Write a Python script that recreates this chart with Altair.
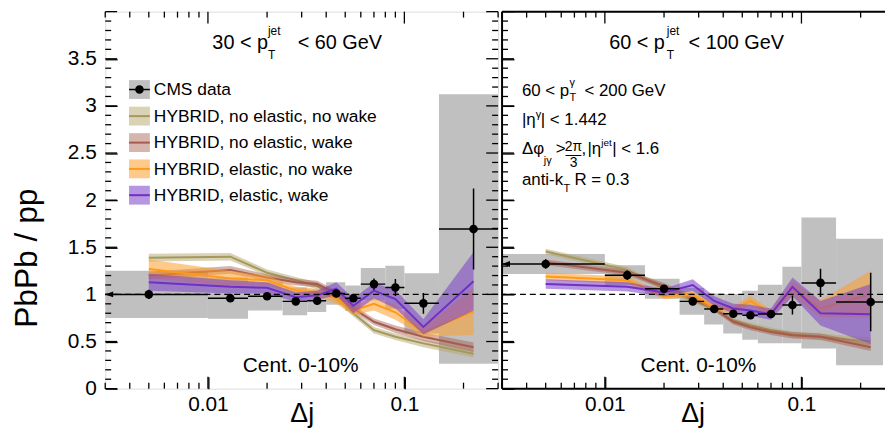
import math
import altair as alt
import pandas as pd

FONT = "Liberation Sans"

# ---------------- data ----------------
BIN_EDGES = [0.0, 0.01, 0.016, 0.024, 0.032, 0.04, 0.05, 0.06, 0.08, 0.1, 0.15, 0.3]
BIN_CENTERS = [0.005, 0.013, 0.02, 0.028, 0.036, 0.045, 0.055, 0.07, 0.09, 0.125, 0.225]

# 30 < pT jet < 60 GeV
LOW_VAL = [1.00, 0.96, 0.98, 0.926, 0.933, 1.01, 0.96, 1.109, 1.074, 0.905, 1.693]
LOW_STAT = [0.05, 0.04, 0.04, 0.04, 0.04, 0.04, 0.04, 0.06, 0.09, 0.11, 0.43]
LOW_SYS = [0.25, 0.218, 0.15, 0.148, 0.12, 0.12, 0.135, 0.17, 0.23, 0.32, 1.43]

# 60 < pT jet < 100 GeV
HIGH_VAL = [1.323, 1.204, 1.06, 0.926, 0.845, 0.795, 0.778, 0.792, 0.887, 1.122, 0.919]
HIGH_STAT = [0.05, 0.05, 0.04, 0.04, 0.04, 0.04, 0.04, 0.04, 0.10, 0.15, 0.31]
HIGH_SYS = [0.106, 0.105, 0.106, 0.141, 0.165, 0.21, 0.26, 0.31, 0.405, 0.695, 0.672]

MODEL_NAMES = [
    "HYBRID, no elastic, no wake",
    "HYBRID, no elastic, wake",
    "HYBRID, elastic, no wake",
    "HYBRID, elastic, wake",
]

LOW_NENW = [1.39, 1.40, 1.23, 1.15, 1.09, 0.96, 0.80, 0.62, 0.55, 0.48, 0.37]
LOW_NENW_ERR = [0.04, 0.04, 0.035, 0.035, 0.035, 0.035, 0.035, 0.035, 0.035, 0.04, 0.04]
LOW_NEW = [1.20, 1.26, 1.18, 1.13, 1.11, 1.01, 0.85, 0.71, 0.63, 0.55, 0.44]
LOW_NEW_ERR = [0.04, 0.04, 0.035, 0.035, 0.035, 0.035, 0.035, 0.035, 0.04, 0.045, 0.05]
LOW_ENW = [1.27, 1.17, 1.15, 1.04, 1.02, 0.96, 0.83, 0.90, 0.81, 0.60, 0.82]
LOW_ENW_ERR = [0.10, 0.08, 0.05, 0.04, 0.04, 0.06, 0.05, 0.07, 0.08, 0.05, 0.25]
LOW_EW = [1.13, 1.08, 1.07, 0.97, 0.99, 1.06, 0.88, 1.04, 0.95, 0.655, 1.14]
LOW_EW_ERR = [0.09, 0.07, 0.06, 0.05, 0.05, 0.07, 0.08, 0.08, 0.10, 0.08, 0.31]

HIGH_NENW = [1.455, 1.26, 1.06, 0.94, 0.85, 0.72, 0.67, 0.62, 0.575, 0.55, 0.50]
HIGH_NENW_ERR = [0.03, 0.03, 0.03, 0.03, 0.03, 0.03, 0.03, 0.03, 0.03, 0.035, 0.04]
HIGH_NEW = [1.34, 1.23, 1.09, 0.96, 0.85, 0.71, 0.65, 0.60, 0.567, 0.55, 0.44]
HIGH_NEW_ERR = [0.03, 0.03, 0.03, 0.03, 0.03, 0.03, 0.03, 0.03, 0.035, 0.035, 0.04]
HIGH_ENW = [1.19, 1.15, 0.98, 1.00, 0.86, 0.84, 0.93, 0.80, 1.06, 0.85, 1.00]
HIGH_ENW_ERR = [0.04, 0.04, 0.03, 0.03, 0.04, 0.04, 0.05, 0.04, 0.08, 0.09, 0.25]
HIGH_EW = [1.11, 1.08, 1.02, 1.10, 0.93, 0.85, 0.83, 0.79, 1.08, 0.80, 0.79]
HIGH_EW_ERR = [0.05, 0.05, 0.04, 0.06, 0.05, 0.05, 0.06, 0.06, 0.10, 0.13, 0.32]

REF_LINE = [1.0]

X_LABELS = [0.01, 0.1]
X_MAJOR_TICKS = [0.01, 0.1]
X_MINOR_TICKS = [0.003, 0.004, 0.005, 0.006, 0.007, 0.008, 0.009,
                 0.02, 0.03, 0.04, 0.05, 0.06, 0.07, 0.08, 0.09, 0.2, 0.3]
Y_LABELS = [0, 0.5, 1, 1.5, 2, 2.5, 3, 3.5]
Y_MAJOR_TICKS = [0, 0.5, 1, 1.5, 2, 2.5, 3, 3.5, 4.0]
Y_MINOR_TICKS = [round(i * 0.1, 1) for i in range(41) if i % 5]

# ---------------- styling ----------------
XMIN = 0.003
YMIN, YMAX = 0.0, 4.0
H = 380
W_LEFT = 396            # two decades
W_RIGHT = 384           # right panel is cut by the page edge
XMAX_LEFT = 0.3
XMAX_RIGHT = 0.26       # visible part of the right panel
MAJ, MIN = 12, 6        # tick lengths in pixels

BOX_GREY = "#c0c0c0"
MODEL_STYLE = [  # band colour, band opacity, line colour
    ("#b3a66b", 0.5, "#a5985c"),
    ("#a35a4d", 0.45, "#a65b4c"),
    ("#fd9f2e", 0.55, "#ff9a14"),
    ("#7b3fc8", 0.55, "#7030c4"),
]

YS = alt.Scale(domain=[YMIN, YMAX], nice=False, zero=False)

# axes are pulled inside the frame by the tick length so that their ticks point inward
XA = alt.Axis(values=X_LABELS, format="~g", labelFont=FONT, labelFontSize=21,
              labelColor="black", labelPadding=5, labelFlush=False, ticks=True,
              tickSize=MAJ, tickColor="black", tickWidth=1.3, offset=-MAJ,
              domain=False, grid=False, title="Δj", titleFont=FONT,
              titleFontSize=27, titleFontWeight="normal", titleColor="black",
              titleBaseline="alphabetic", titleY=33 + MAJ)
YA_LEFT = alt.Axis(values=Y_LABELS, format="~g", labelFont=FONT, labelFontSize=21,
                   labelColor="black", labelPadding=9, labelFlush=False, ticks=True,
                   tickSize=MAJ, tickColor="black", tickWidth=1.3, offset=-MAJ,
                   domain=False, grid=False, title="PbPb / pp",
                   titleFont=FONT, titleFontSize=32, titleFontWeight="normal",
                   titleColor="black", titleAngle=270, titleAlign="center",
                   titleBaseline="alphabetic", titleX=-69 - MAJ, titleY=248)
YA_RIGHT = alt.Axis(values=Y_LABELS, labels=False, ticks=True, tickSize=MAJ,
                    tickColor="black", tickWidth=1.3, offset=-MAJ, domain=False,
                    grid=False, title="")


def px_chart(rows, cols):
    return alt.Chart(pd.DataFrame(rows, columns=cols))


def make_panel(vals, stat, sys, models, texts_left, texts_center, extra_rules,
               legend, ya, width, xmax, own_frame):
    XS = alt.Scale(type="log", domain=[XMIN, xmax], nice=False)
    lo_edges = [max(e, XMIN) for e in BIN_EDGES[:-1]]
    hi_edges = [min(e, xmax) for e in BIN_EDGES[1:]]
    d = pd.DataFrame({
        "x": BIN_CENTERS, "v": vals,
        "slo": [v - s for v, s in zip(vals, sys)], "shi": [v + s for v, s in zip(vals, sys)],
        "elo": [v - s for v, s in zip(vals, stat)], "ehi": [v + s for v, s in zip(vals, stat)],
        "blo": lo_edges, "bhi": hi_edges,
    })
    X = lambda f: alt.X(f, scale=XS, axis=XA)
    Y = lambda f: alt.Y(f, scale=YS, axis=ya)

    layers = []
    layers.append(alt.Chart(d).mark_rect(color=BOX_GREY, clip=True).encode(
        x=X("blo:Q"), x2="bhi:Q", y=Y("slo:Q"), y2="shi:Q"))

    for (c, hw), (bcol, bop, lcol) in zip(models, MODEL_STYLE):
        md = pd.DataFrame({"x": BIN_CENTERS, "c": c,
                           "lo": [a - b for a, b in zip(c, hw)],
                           "hi": [a + b for a, b in zip(c, hw)]})
        layers.append(alt.Chart(md).mark_area(color=bcol, opacity=bop, clip=True).encode(
            x=X("x:Q"), y=Y("lo:Q"), y2="hi:Q"))
        layers.append(alt.Chart(md).mark_line(color=lcol, strokeWidth=2, clip=True).encode(
            x=X("x:Q"), y=Y("c:Q")))

    layers.append(alt.Chart(pd.DataFrame({"r": REF_LINE})).mark_rule(
        color="black", strokeDash=[6, 4], strokeWidth=1.2).encode(y=Y("r:Q")))

    layers.append(alt.Chart(d).mark_rule(color="black", strokeWidth=1.5, clip=True).encode(
        x=X("blo:Q"), x2="bhi:Q", y=Y("v:Q")))
    layers.append(alt.Chart(d).mark_rule(color="black", strokeWidth=1.5, clip=True).encode(
        x=X("x:Q"), y=Y("elo:Q"), y2="ehi:Q"))
    # arrow: first bin starts at 0 (off the log axis)
    arr = pd.DataFrame({"x": [XMIN], "v": [vals[0]]})
    layers.append(alt.Chart(arr).mark_point(shape="M0,0L2,-0.75L2,0.75Z", filled=True,
                                            color="black", opacity=1, size=64).encode(
        x=X("x:Q"), y=Y("v:Q")))
    layers.append(alt.Chart(d).mark_point(shape="circle", filled=True, color="black",
                                          opacity=1, size=75).encode(x=X("x:Q"), y=Y("v:Q")))

    # extra inward ROOT-style ticks (minor ticks, top and right edges) in panel pixels
    decades = math.log10(xmax / XMIN)
    xpix = lambda t: width * math.log10(t / XMIN) / decades
    ypix = lambda v: H * (YMAX - v) / (YMAX - YMIN)
    segs = []  # x1, x2, y1, y2 in pixels
    sides = [False, True] if not own_frame else [False]
    for vals_, L in ((Y_MAJOR_TICKS, MAJ), (Y_MINOR_TICKS, MIN)):
        for t in vals_:
            yy = ypix(t)
            for right_side in sides:
                if right_side:
                    segs.append((width - L, width, yy, yy))
                else:
                    segs.append((0, L, yy, yy))
    for vals_, L in ((X_MAJOR_TICKS, MAJ), (X_MINOR_TICKS, MIN)):
        for t in vals_:
            if t > xmax:
                continue
            xx = xpix(t)
            segs.append((xx, xx, H - L, H))
            segs.append((xx, xx, 0, L))
    if own_frame:
        # frame without the right edge (cut by the page border)
        frame = [(0, 0, 0, H), (0, width + 2, 0, 0), (0, width + 2, H, H)]
        layers.append(px_chart(frame, ["x1", "x2", "y1", "y2"]).mark_rule(
            color="black", strokeWidth=2).encode(
            x=alt.X("x1:Q", scale=None), x2="x2:Q",
            y=alt.Y("y1:Q", scale=None), y2="y2:Q"))
    layers.append(px_chart(segs, ["x1", "x2", "y1", "y2"]).mark_rule(
        color="black", strokeWidth=1.3).encode(
        x=alt.X("x1:Q", scale=None), x2="x2:Q",
        y=alt.Y("y1:Q", scale=None), y2="y2:Q"))

    # legend (pixel positions inside the panel)
    if legend:
        rows_y = [78.5, 105.3, 132.0, 158.5, 185.0]
        sx0, sx1, sh = 24, 45, 9.5
        rect_rows = [(sx0, sx1, rows_y[0] - sh, rows_y[0] + sh, BOX_GREY, 1.0)]
        line_rows = [(sx0, sx1, rows_y[0], "black", 1.5)]
        for i, (bcol, bop, lcol) in enumerate(MODEL_STYLE):
            yy = rows_y[i + 1]
            rect_rows.append((sx0, sx1, yy - sh, yy + sh, bcol, bop))
            line_rows.append((sx0, sx1, yy, lcol, 2.0))
        layers.append(px_chart(rect_rows, ["x1", "x2", "y1", "y2", "c", "o"]).mark_rect().encode(
            x=alt.X("x1:Q", scale=None), x2="x2:Q", y=alt.Y("y1:Q", scale=None), y2="y2:Q",
            color=alt.Color("c:N", scale=None), opacity=alt.Opacity("o:Q", scale=None)))
        layers.append(px_chart(line_rows, ["x1", "x2", "y", "c", "w"]).mark_rule().encode(
            x=alt.X("x1:Q", scale=None), x2="x2:Q", y=alt.Y("y:Q", scale=None),
            color=alt.Color("c:N", scale=None), strokeWidth=alt.StrokeWidth("w:Q", scale=None)))
        layers.append(px_chart([((sx0 + sx1) / 2, rows_y[0])], ["px", "py"])
                      .mark_point(shape="circle", filled=True, color="black", opacity=1, size=75)
                      .encode(x=alt.X("px:Q", scale=None), y=alt.Y("py:Q", scale=None)))
        for i, name in enumerate(["CMS data"] + MODEL_NAMES):
            texts_left = texts_left + [(name, 49, rows_y[i] + 5.8, 17.5)]

    if extra_rules:
        layers.append(px_chart(extra_rules, ["x1", "x2", "y"]).mark_rule(
            color="black", strokeWidth=1).encode(
            x=alt.X("x1:Q", scale=None), x2="x2:Q", y=alt.Y("y:Q", scale=None)))

    for rows, al in ((texts_left, "left"), (texts_center, "center")):
        layers.append(px_chart(rows, ["t", "px", "py", "fs"]).mark_text(
            align=al, baseline="alphabetic", font=FONT, color="black").encode(
            x=alt.X("px:Q", scale=None), y=alt.Y("py:Q", scale=None), text="t:N",
            size=alt.Size("fs:Q", scale=None)))

    ch = alt.layer(*layers).properties(width=width, height=H)
    if own_frame:
        ch = ch.properties(view=alt.ViewBackground(stroke="transparent"))
    return ch


left_texts = [("30 < p", 108, 38, 20), ("jet", 164, 24, 12), ("T", 164, 48, 12),
              ("< 60 GeV", 194, 38, 20)]
left_center = [("Cent. 0-10%", 197, 363, 21)]

right_texts = [("60 < p", 108, 38, 20), ("jet", 166, 24, 12), ("T", 166, 48, 12),
               ("< 100 GeV", 188, 38, 20),
               ("60 < p", 20, 85, 17), ("T", 68, 90, 11), ("γ", 68, 75, 11), ("< 200 GeV", 83, 85, 17),
               ("|η", 20, 114, 17), ("γ", 34, 107, 11), ("| < 1.442", 39, 114, 17),
               ("Δφ", 20, 143, 17), ("jγ", 42, 154, 11), (">", 54, 143, 17),
               (",", 80, 143, 17), ("|η", 86, 143, 17), ("jet", 100, 135, 10), ("| < 1.6", 111, 143, 17),
               ("anti-k", 20, 175, 17), ("T", 62, 182, 11), ("R = 0.3", 73, 175, 17)]
right_center = [("2π", 72, 140, 14), ("3", 72, 157, 14), ("Cent. 0-10%", 198, 363, 21)]
right_rules = [(64, 80, 145)]

left = make_panel(LOW_VAL, LOW_STAT, LOW_SYS,
                  [(LOW_NENW, LOW_NENW_ERR), (LOW_NEW, LOW_NEW_ERR),
                   (LOW_ENW, LOW_ENW_ERR), (LOW_EW, LOW_EW_ERR)],
                  left_texts, left_center, [], True, YA_LEFT, W_LEFT, XMAX_LEFT, False)
right = make_panel(HIGH_VAL, HIGH_STAT, HIGH_SYS,
                   [(HIGH_NENW, HIGH_NENW_ERR), (HIGH_NEW, HIGH_NEW_ERR),
                    (HIGH_ENW, HIGH_ENW_ERR), (HIGH_EW, HIGH_EW_ERR)],
                   right_texts, right_center, right_rules, False, YA_RIGHT,
                   W_RIGHT, XMAX_RIGHT, True)

chart = alt.hconcat(left, right, spacing=0).properties(
    padding={"left": 2, "top": 0, "right": 0, "bottom": 0}
).configure_view(stroke="black", strokeWidth=2).configure(background="white")

chart.save("out.html", embed_options={"renderer": "svg", "actions": False})
